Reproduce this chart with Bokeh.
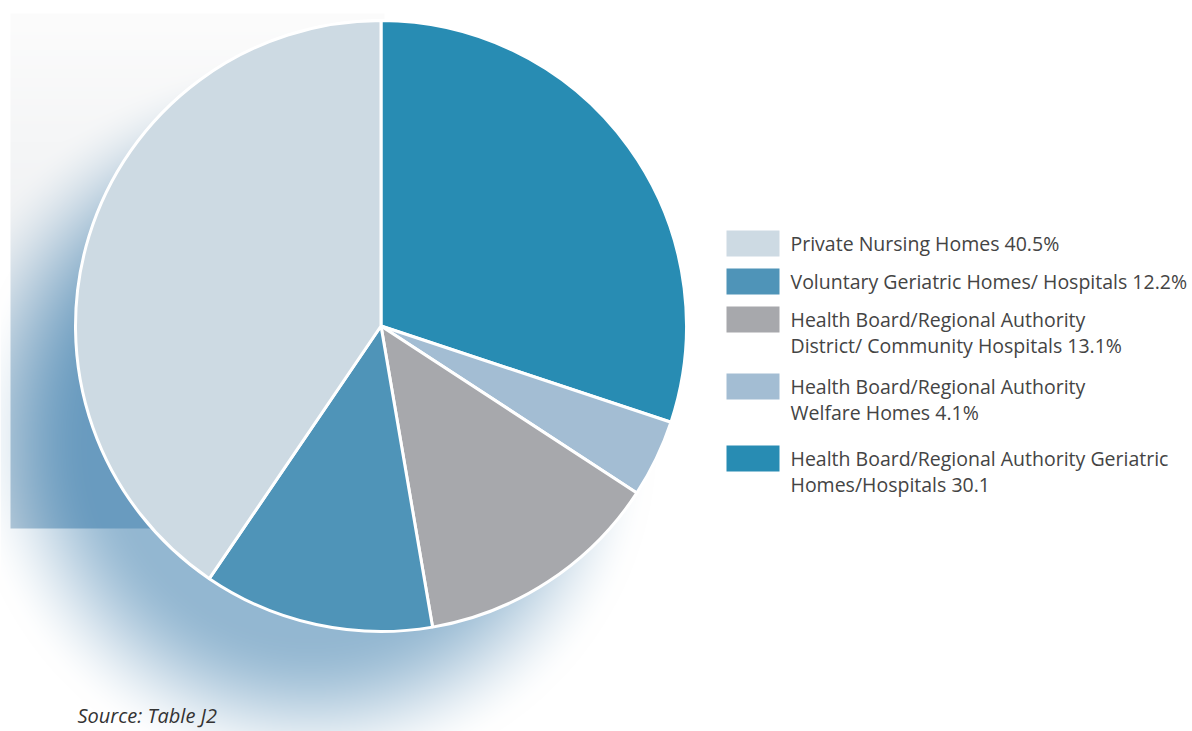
import numpy as np
from bokeh.plotting import figure
from bokeh.models import Range1d, ColumnDataSource
from bokeh.core.properties import value
from bokeh.embed import file_html
from bokeh.resources import INLINE

# ---- data (clockwise from 12 o'clock) ----
categories = [
    "Health Board/Regional Authority Geriatric Homes/Hospitals",
    "Health Board/Regional Authority Welfare Homes",
    "Health Board/Regional Authority District/ Community Hospitals",
    "Voluntary Geriatric Homes/ Hospitals",
    "Private Nursing Homes",
]
shares = [30.1, 4.1, 13.1, 12.2, 40.5]
colors = ["#288cb3", "#a3bdd3", "#a7a8ac", "#4f94b8", "#cddae3"]

# legend (top to bottom) : index into the lists above, and its text lines
legend_order = [4, 3, 2, 1, 0]
legend_lines = [
    ["Private Nursing Homes 40.5%"],
    ["Voluntary Geriatric Homes/ Hospitals 12.2%"],
    ["Health Board/Regional Authority", "District/ Community Hospitals 13.1%"],
    ["Health Board/Regional Authority", "Welfare Homes 4.1%"],
    ["Health Board/Regional Authority Geriatric", "Homes/Hospitals 30.1"],
]
source_note = "Source: Table J2"

W, H = 1192, 731
FONT = "Open Sans"

p = figure(width=W, height=H, output_backend="svg", toolbar_location=None,
           x_range=Range1d(0, W), y_range=Range1d(0, H), min_border=0)
p.axis.visible = False
p.grid.visible = False
p.outline_line_color = None
p.background_fill_color = "white"
p.border_fill_color = "white"

def Y(py):  # page y -> data y
    return H - py

# ---- background: grey panel + soft blue drop shadow (decoration) ----
yy, xx = np.mgrid[0:H, 0:W].astype(float)
cx, cy, r0 = 380.5, 325.5, 305.5
scx, scy = 310.0, 440.0
d = np.hypot(xx - scx, yy - scy)
def smooth(t):
    t = np.clip(t, 0, 1)
    return t * t * (3 - 2 * t)
s_out = smooth((345 - d) / 150.0) * 0.70
s_in = smooth((390 - d) / 170.0) * 0.97
img = np.ones((H, W, 3)) * 255.0
in_rect = (xx >= 10) & (xx <= 383) & (yy >= 13) & (yy <= 527)
t = np.clip((yy - 13) / (527 - 13), 0, 1)
base = np.stack([252 - 28 * t, 252 - 24 * t, 252 - 20 * t], axis=-1)
img = np.where(in_rect[..., None], base, img)
alpha = np.where(in_rect, s_in, s_out)[..., None]
shadow_col = np.array([102.0, 153.0, 190.0])
img = img * (1 - alpha) + shadow_col * alpha
rgba = np.empty((H, W), dtype=np.uint32)
view = rgba.view(dtype=np.uint8).reshape((H, W, 4))
view[..., 0:3] = np.clip(img, 0, 255).astype(np.uint8)
view[..., 3] = 255
p.image_rgba(image=[rgba[::-1]], x=0, y=0, dw=W, dh=H)

# ---- pie ----
frac = np.array(shares) / sum(shares)
cum = np.concatenate([[0], np.cumsum(frac)])
start = np.pi / 2 - cum[:-1] * 2 * np.pi
end = np.pi / 2 - cum[1:] * 2 * np.pi
src = ColumnDataSource(dict(start=start, end=end, color=colors, cat=categories))
p.wedge(x=cx, y=Y(cy), radius=r0, start_angle="start", end_angle="end",
        direction="clock", fill_color="color", line_color="white", line_width=3,
        source=src)

# ---- legend ----
sq_tops = [230, 268, 306, 373, 445]
for k, (idx, lines) in enumerate(zip(legend_order, legend_lines)):
    top = sq_tops[k]
    p.rect(x=752.5, y=Y(top + 13), width=53, height=26, fill_color=colors[idx],
           line_color=None)
    for j, ln in enumerate(lines):
        p.text(x=790, y=Y(top + 13 + 25.5 * j), text=[ln], text_font=value(FONT),
               text_font_size="19.5px", text_color="#444444", text_baseline="middle",
               text_align="left")

p.text(x=77, y=Y(715), text=[source_note], text_font=value(FONT),
       text_font_size="20px", text_font_style="italic", text_color="#333333",
       text_baseline="middle", text_align="left")

open("out.html", "w").write(file_html(p, INLINE))
